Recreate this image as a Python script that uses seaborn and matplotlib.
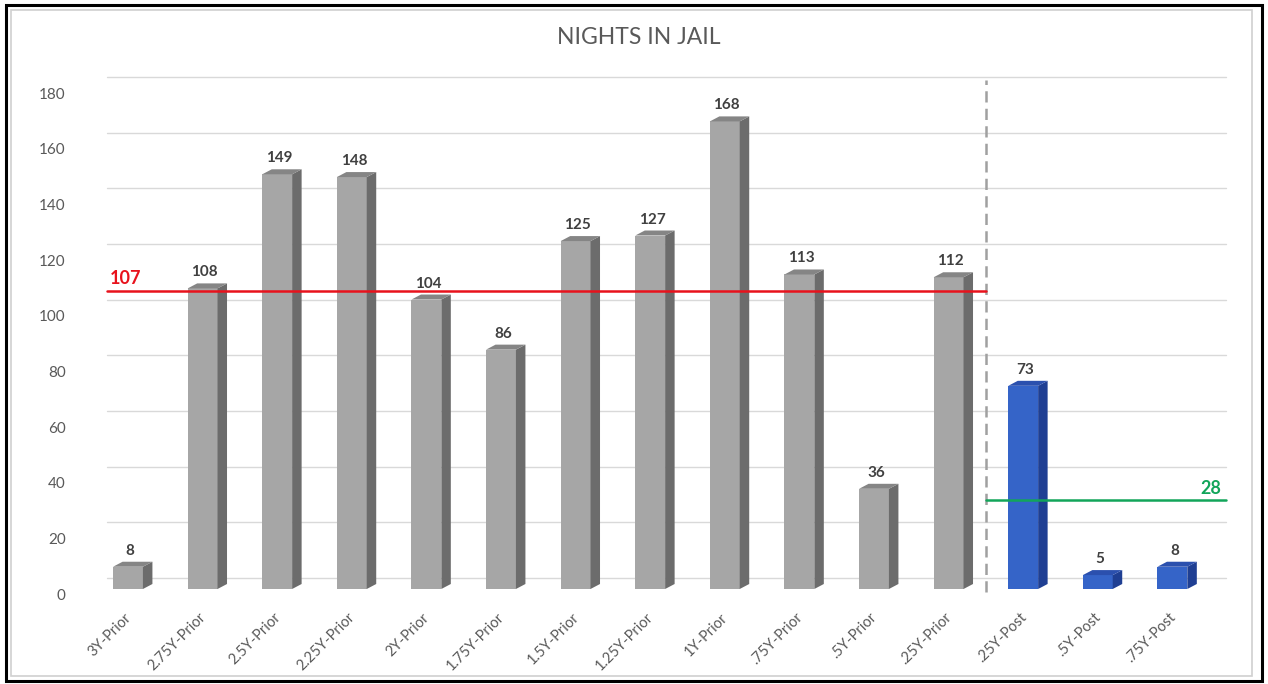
import matplotlib
matplotlib.use("Agg")
import matplotlib.pyplot as plt
import matplotlib.transforms as mtransforms
from matplotlib.patches import Polygon, Rectangle
import seaborn as sns
import pandas as pd

# ---- data -------------------------------------------------------------
periods = ["3Y-Prior", "2.75Y-Prior", "2.5Y-Prior", "2.25Y-Prior", "2Y-Prior",
           "1.75Y-Prior", "1.5Y-Prior", "1.25Y-Prior", "1Y-Prior", ".75Y-Prior",
           ".5Y-Prior", ".25Y-Prior", ".25Y-Post", ".5Y-Post", ".75Y-Post"]
nights = [8, 108, 149, 148, 104, 86, 125, 127, 168, 113, 36, 112, 73, 5, 8]
phase = ["Prior"] * 12 + ["Post"] * 3
prior_avg = 107
post_avg = 28
y_ticks = [0, 20, 40, 60, 80, 100, 120, 140, 160, 180]

df = pd.DataFrame({"period": periods, "nights": nights, "phase": phase})

# ---- style ------------------------------------------------------------
sns.set_theme(style="white")
plt.rcParams["font.family"] = ["Lato", "DejaVu Sans"]

W, H, DPI = 1268, 684, 100
fig = plt.figure(figsize=(W / DPI, H / DPI), dpi=DPI)
fig.patch.set_facecolor("white")

# axes placed in pixel terms: front plane of the bars
ax_left, ax_right = 90.7, 1209.7
ax_bottom, ax_top = 589, 88
ax = fig.add_axes([ax_left / W, 1 - ax_bottom / H,
                   (ax_right - ax_left) / W, (ax_bottom - ax_top) / H])

face = {"Prior": "#A6A6A6", "Post": "#3564C8"}
side = {"Prior": "#6C6C6C", "Post": "#1F3F93"}
top = {"Prior": "#858585", "Post": "#2B50AE"}

sns.barplot(data=df, x="period", y="nights", hue="phase", palette=face,
            dodge=False, width=0.40, legend=False, ax=ax, saturation=1,
            linewidth=0, zorder=3)

ax.set_xlim(-0.5, len(periods) - 0.5)
ax.set_ylim(0, 180)

# pixel -> data unit conversions
px_x = (len(periods)) / (ax_right - ax_left)
px_y = 180 / (ax_bottom - ax_top)
depth_x = 9.5 * px_x
depth_y = 5.0 * px_y

# side and top faces give the bars their depth
for patch, ph in zip(ax.patches, phase):
    x0 = patch.get_x()
    w = patch.get_width()
    h = patch.get_height()
    x1 = x0 + w
    side_poly = Polygon([(x1, 0), (x1 + depth_x, depth_y), (x1 + depth_x, h + depth_y), (x1, h)],
                        closed=True, facecolor=side[ph], edgecolor="none", zorder=3)
    top_poly = Polygon([(x0, h), (x0 + depth_x, h + depth_y), (x1 + depth_x, h + depth_y), (x1, h)],
                       closed=True, facecolor=top[ph], edgecolor="none", zorder=3)
    ax.add_patch(side_poly)
    ax.add_patch(top_poly)
    ax.annotate(f"{int(h)}", xy=(x0 + w / 2, h + depth_y), xytext=(2, 4),
                textcoords="offset pixels", ha="center", va="bottom",
                fontsize=11, fontweight="bold", color="#404040", zorder=5,
                annotation_clip=False)

# back-wall gridlines (shifted up/right for the depth effect)
back = mtransforms.offset_copy(ax.transData, fig=fig, x=0, y=11, units="dots")
grid_x0 = -0.5 + 16 * px_x
grid_x1 = len(periods) - 0.5 + 16 * px_x
for v in y_ticks:
    ax.plot([grid_x0, grid_x1], [v, v], color="#D9D9D9", lw=1.0,
            transform=back, clip_on=False, zorder=1)

# split between prior and post periods
split_x = 11.5
ax.plot([split_x, split_x], [-1, 180 + 8 * px_y], color="#A0A0A0", lw=1.8,
        linestyle=(0, (4.5, 2.5)), clip_on=False, zorder=2)

# period averages
ax.plot([grid_x0, split_x], [prior_avg, prior_avg], color="#E8121C", lw=1.8,
        clip_on=False, zorder=4)
ax.text(grid_x0 + 3 * px_x, prior_avg + 4 * px_y, f"{prior_avg}", color="#E8121C",
        fontsize=13, fontweight="bold", ha="left", va="bottom")
ax.plot([split_x, grid_x1], [post_avg, post_avg], color="#12A55A", lw=1.8,
        transform=back, clip_on=False, zorder=4)
ax.text(grid_x1 - 4 * px_x, post_avg + 3 * px_y, f"{post_avg}", color="#12A55A",
        fontsize=13, fontweight="bold", ha="right", va="bottom", transform=back)

# axes cosmetics
sns.despine(ax=ax, left=True, bottom=True)
ax.set_xlabel("")
ax.set_ylabel("")
ax.set_yticks(y_ticks)
ax.tick_params(axis="y", length=0, pad=18, labelsize=11, labelcolor="#595959")
ax.tick_params(axis="x", length=0, pad=9, labelsize=10.5, labelcolor="#595959")
ax.set_xticks(range(len(periods)))
ax.set_xticklabels(periods, rotation=45, ha="right", rotation_mode="anchor")
down = mtransforms.ScaledTranslation(0, -5 / DPI, fig.dpi_scale_trans)
for lbl in ax.get_yticklabels():
    lbl.set_transform(lbl.get_transform() + down)
shift = mtransforms.ScaledTranslation(-4 / DPI, -9 / DPI, fig.dpi_scale_trans)
for lbl in ax.get_xticklabels():
    lbl.set_transform(lbl.get_transform() + shift)
ax.set_facecolor("none")

# title
fig.text(639 / W, 1 - 37 / H, "NIGHTS IN JAIL", ha="center", va="center",
         fontsize=16.5, color="#595959")

# frames around the chart
fig.add_artist(Rectangle((11 / W, 1 - 676 / H), (1252 - 11) / W, (676 - 10) / H,
                         transform=fig.transFigure, fill=False, edgecolor="#D0D0D0", lw=1.2))
fig.add_artist(Rectangle((6 / W, 1 - 681 / H), (1262 - 6) / W, (681 - 5) / H,
                         transform=fig.transFigure, fill=False, edgecolor="black", lw=2.2))

fig.savefig("out.png", dpi=DPI)
